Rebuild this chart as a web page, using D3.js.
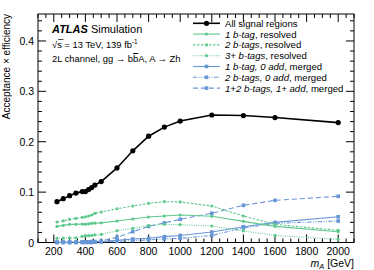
<!DOCTYPE html>
<html>
<head>
<meta charset="utf-8">
<script src="https://cdn.jsdelivr.net/npm/d3@7"></script>
<style>
  body { margin: 0; background: #fff; }
  text { font-family: 'Liberation Sans', Arial, sans-serif; }
</style>
</head>
<body>
<div id="chart"></div>
<script>
const masses = [220, 260, 300, 340, 380, 400, 420, 440, 460, 500, 600, 700, 800, 900, 1000, 1200, 1400, 1600, 2000]
const allSR = [0.081, 0.087, 0.093, 0.098, 0.101, 0.101, 0.105, 0.109, 0.114, 0.121, 0.148, 0.182, 0.211, 0.229, 0.241, 0.253, 0.252, 0.248, 0.238]
const res1b = [0.032, 0.034, 0.036, 0.036, 0.0366, 0.036, 0.037, 0.038, 0.0385, 0.039, 0.0426, 0.0466, 0.0506, 0.0526, 0.0546, 0.052, 0.042, 0.032, 0.0214]
const res2b = [0.0407, 0.043, 0.046, 0.048, 0.050, 0.051, 0.0526, 0.0546, 0.058, 0.0605, 0.067, 0.0724, 0.0778, 0.081, 0.0805, 0.0724, 0.0526, 0.036, 0.024]
const res3b = [0.0083, 0.0086, 0.009, 0.0093, 0.0123, 0.013, 0.0136, 0.014, 0.015, 0.016, 0.0234, 0.028, 0.0334, 0.036, 0.0354, 0.0327, 0.0228, 0.014, 0.0063]
const mrg1b0 = [0.001, 0.001, 0.001, 0.001, 0.001, 0.001, 0.001, 0.002, 0.002, 0.002, 0.0043, 0.007, 0.0083, 0.0116, 0.014, 0.0208, 0.0314, 0.040, 0.051]
const mrg2b0 = [0, 0, 0, 0, 0, 0, 0, 0, 0.001, 0.001, 0.002, 0.004, 0.005, 0.007, 0.0083, 0.014, 0.0288, 0.038, 0.0426]
const mrgAdd = [0, 0, 0, 0, 0.001, 0.001, 0.001, 0.001, 0.001, 0.003, 0.0103, 0.0214, 0.032, 0.039, 0.046, 0.058, 0.0738, 0.0837, 0.0917]
const xTicks = [200, 400, 600, 800, 1000, 1200, 1400, 1600, 1800, 2000]
const yTicks = [0, 0.1, 0.2, 0.3, 0.4]

const chartWidth = 374
const chartHeight = 270
const m = { left: 38, right: 20, top: 14, bottom: 27.5 }
const green = '#5fc98d'
const blue = '#6796d6'

const series = [
  { name: 'All signal regions', vals: allSR, color: '#000', dash: null, width: 1.6, mark: 'bigdot' },
  { name: '1 b-tag', suffix: ', resolved', vals: res1b, color: green, dash: null, width: 1.1, mark: 'dot' },
  { name: '2 b-tags', suffix: ', resolved', vals: res2b, color: green, dash: '2.5,1.5', width: 1.1, mark: 'dot' },
  { name: '3+ b-tags', suffix: ', resolved', vals: res3b, color: green, dash: '1,1.3', width: 1.1, mark: 'dot' },
  { name: '1 b-tag, 0 add', suffix: ', merged', vals: mrg1b0, color: blue, dash: null, width: 1.1, mark: 'square' },
  { name: '2 b-tags, 0 add', suffix: ', merged', vals: mrg2b0, color: blue, dash: '4,1.5,1,1.5,1,1.5', width: 1.1, mark: 'square' },
  { name: '1+2 b-tags, 1+ add', suffix: ', merged', vals: mrgAdd, color: blue, dash: '5,3', width: 1.1, mark: 'square' }
]

const svg = d3.select('#chart').append('svg')
  .attr('width', chartWidth)
  .attr('height', chartHeight)

const x = d3.scaleLinear().domain([100, 2100]).range([m.left, chartWidth - m.right])
const y = d3.scaleLinear().domain([0, 0.4535]).range([chartHeight - m.bottom, m.top])

// ticks on all four sides, pointing inward
function ticksFor(scale, step, end) {
  const out = []
  const [a, b] = scale.domain()
  for (let v = Math.ceil(a / step - 1e-9) * step; v <= b + 1e-9; v += step) out.push(+v.toFixed(6))
  return out
}
const xMinor = ticksFor(x, 50)
const yMinor = ticksFor(y, 0.02)

const axes = svg.append('g').attr('stroke', '#000').attr('stroke-width', 1)
axes.append('rect')
  .attr('x', m.left).attr('y', m.top)
  .attr('width', chartWidth - m.left - m.right)
  .attr('height', chartHeight - m.top - m.bottom)
  .attr('fill', 'none')

xMinor.forEach(v => {
  const major = xTicks.includes(v)
  const len = major ? 8 : 4
  axes.append('line').attr('x1', x(v)).attr('x2', x(v)).attr('y1', y(0)).attr('y2', y(0) - len)
  axes.append('line').attr('x1', x(v)).attr('x2', x(v)).attr('y1', m.top).attr('y2', m.top + len)
})
yMinor.forEach(v => {
  const major = yTicks.some(t => Math.abs(t - v) < 1e-6)
  const len = major ? 8 : 4
  axes.append('line').attr('x1', m.left).attr('x2', m.left + len).attr('y1', y(v)).attr('y2', y(v))
  axes.append('line').attr('x1', chartWidth - m.right).attr('x2', chartWidth - m.right - len).attr('y1', y(v)).attr('y2', y(v))
})

svg.append('g').selectAll('text').data(xTicks).enter().append('text')
  .attr('x', d => x(d)).attr('y', chartHeight - m.bottom + 12)
  .attr('text-anchor', 'middle').attr('font-size', 10.5)
  .text(d => d)

svg.append('g').selectAll('text').data(yTicks).enter().append('text')
  .attr('x', m.left - 4).attr('y', d => y(d) + 4)
  .attr('text-anchor', 'end').attr('font-size', 10.5)
  .text(d => d === 0 ? '0' : d)

// axis titles
const xt = svg.append('text')
  .attr('x', chartWidth - m.right).attr('y', chartHeight - 3)
  .attr('text-anchor', 'end').attr('font-size', 10.5)
xt.append('tspan').attr('font-style', 'italic').text('m')
xt.append('tspan').attr('font-style', 'italic').attr('font-size', 7.5).attr('dy', 2).text('A')
xt.append('tspan').attr('dy', -2).text(' [GeV]')

svg.append('text')
  .attr('transform', `translate(10,${m.top}) rotate(-90)`)
  .attr('text-anchor', 'end').attr('font-size', 10)
  .text('Acceptance × efficiency')

// lines and markers
const line = d3.line().x((d, i) => x(masses[i])).y(d => y(d))
const plot = svg.append('g')
series.slice().reverse().forEach(s => {
  plot.append('path')
    .attr('d', line(s.vals))
    .attr('fill', 'none')
    .attr('stroke', s.color)
    .attr('stroke-width', s.width)
    .attr('stroke-dasharray', s.dash)
  const g = plot.append('g').attr('fill', s.color)
  if (s.mark === 'square') {
    g.selectAll('rect').data(s.vals).enter().append('rect')
      .attr('x', (d, i) => x(masses[i]) - 1.8).attr('y', d => y(d) - 1.8)
      .attr('width', 3.6).attr('height', 3.6)
  } else {
    g.selectAll('circle').data(s.vals).enter().append('circle')
      .attr('cx', (d, i) => x(masses[i])).attr('cy', d => y(d))
      .attr('r', s.mark === 'bigdot' ? 2.6 : 1.6)
  }
})

// legend
const leg = svg.append('g')
series.forEach((s, i) => {
  const ly = 23.3 + i * 10.8
  leg.append('line')
    .attr('x1', 193).attr('x2', 220).attr('y1', ly).attr('y2', ly)
    .attr('stroke', s.color).attr('stroke-width', s.width)
    .attr('stroke-dasharray', s.dash)
  if (s.mark === 'square') {
    leg.append('rect').attr('x', 206.5 - 1.8).attr('y', ly - 1.8).attr('width', 3.6).attr('height', 3.6).attr('fill', s.color)
  } else {
    leg.append('circle').attr('cx', 206.5).attr('cy', ly).attr('r', s.mark === 'bigdot' ? 2.6 : 1.6).attr('fill', s.color)
  }
  const t = leg.append('text').attr('x', 225).attr('y', ly + 3.5).attr('font-size', 9.6)
  if (i === 0) t.text(s.name)
  else {
    t.append('tspan').attr('font-style', 'italic').text(s.name)
    t.append('tspan').text(s.suffix)
  }
})

// labels
const atlas = svg.append('text').attr('x', 52).attr('y', 32.5).attr('font-size', 11)
atlas.append('tspan').attr('font-weight', 'bold').attr('font-style', 'italic').text('ATLAS')
atlas.append('tspan').text(' Simulation')

const rs = svg.append('text').attr('x', 52).attr('y', 48).attr('font-size', 9.4)
rs.append('tspan').text('√s = 13 TeV, 139 fb')
rs.append('tspan').attr('font-size', 6.5).attr('dy', -4).text('-1')
svg.append('line').attr('x1', 58).attr('x2', 63.5).attr('y1', 39.5).attr('y2', 39.5).attr('stroke', '#000').attr('stroke-width', 0.7)

const ch = svg.append('text').attr('x', 52).attr('y', 62).attr('font-size', 9.4)
ch.append('tspan').text('2L channel, gg → b')
ch.append('tspan').attr('text-decoration', 'overline').text('b')
ch.append('tspan').text('A, A → Zh')
</script>
</body>
</html>
